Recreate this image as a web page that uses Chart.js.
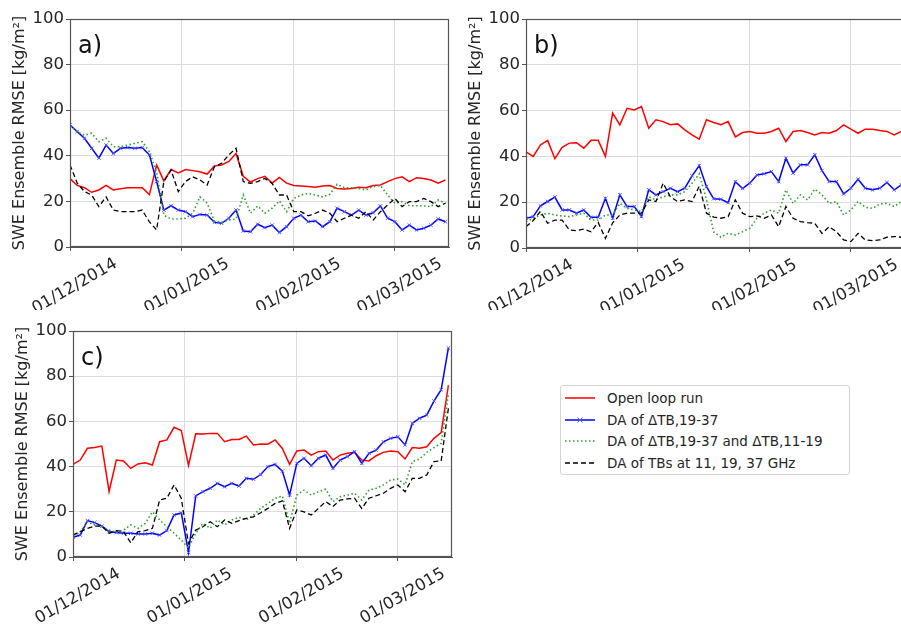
<!DOCTYPE html>
<html>
<head>
<meta charset="utf-8">
<script src="https://cdn.jsdelivr.net/npm/chart.js@4"></script>
<style>
  html, body { margin: 0; padding: 0; background: #fff; }
  body { width: 901px; height: 625px; overflow: hidden; position: relative; font-family: "DejaVu Sans", sans-serif; }
  canvas { position: absolute; }
  #legend { position: absolute; left: 560px; top: 385px; width: 290px; height: 90px; border: 1px solid #d4d4d4; border-radius: 3px; box-sizing: border-box; padding-top: 1px; background: #fff; }
  .row { height: 21.7px; display: flex; align-items: center; font-size: 13.5px; color: #262626; white-space: nowrap; }
  .row svg { margin-left: 4px; margin-right: 12px; flex: none; }
</style>
</head>
<body>
<canvas id="chartA" width="460" height="310" style="left:0;top:0"></canvas>
<canvas id="chartB" width="460" height="310" style="left:460px;top:0"></canvas>
<canvas id="chartC" width="460" height="315" style="left:0;top:310px"></canvas>
<div id="legend"></div>
<script>
// --- data: days since 01/12/2014, every second day ---
const days = [0, 2, 4, 6, 8, 10, 12, 14, 16, 18,
  20, 22, 24, 26, 28, 30, 32, 34, 36, 38,
  40, 42, 44, 46, 48, 50, 52, 54, 56, 58,
  60, 62, 64, 66, 68, 70, 72, 74, 76, 78,
  80, 82, 84, 86, 88, 90, 92, 94, 96, 98,
  100, 102, 104];

const tickDays = [0, 31, 62, 90];
const tickLabels = ["01/12/2014", "01/01/2015", "01/02/2015", "01/03/2015"];
const yTicks = [0, 20, 40, 60, 80, 100];

const seriesNames = ["Open loop run", "DA of \u0394TB,19-37", "DA of \u0394TB,19-37 and \u0394TB,11-19", "DA of TBs at 11, 19, 37 GHz"];

// panel a)
const aOpen = [30, 27, 26, 24, 25, 27, 25, 25.5, 26, 26,
  26, 23, 36, 29, 34, 32.5, 34, 33.5, 33, 32,
  35.5, 36, 37.5, 41, 31, 28.5, 30, 31, 28, 30.5,
  28, 27, 26.8, 26.5, 26.2, 26.8, 27, 25.7, 25.4, 25.7,
  26.2, 26, 27, 27.2, 28.7, 30, 30.8, 28.7, 30.4, 30,
  29.4, 28, 29.4];
const aDiff = [53.5, 50.6, 47.7, 43.3, 39, 44.7, 41, 43.3, 43.6, 43.3,
  43.6, 40.4, 28.7, 16.2, 18.1, 16.2, 15.5, 13.3, 14.3, 14,
  10.8, 10.4, 12.6, 16.2, 7, 6.7, 10, 8.5, 9.6, 6.4,
  8.9, 12.6, 14, 11.1, 11.4, 8.9, 11.1, 17, 15.5, 14,
  16.2, 14, 15, 18, 12.6, 11.1, 7.5, 9.6, 7.5, 8.2,
  9.6, 12.3, 11.1];
const aTwoDiff = [53.5, 50.6, 49, 49.9, 46.2, 47.7, 44, 44, 44.7, 45.5,
  46.2, 41.8, 33, 14, 12.3, 12.3, 12.6, 14.8, 22, 19.2,
  11.4, 10.8, 11.8, 12.3, 22.8, 14.8, 18, 14.8, 17, 20.2,
  15.5, 21.3, 22.8, 23.5, 22.8, 22, 23.1, 27.5, 26, 26,
  25.7, 25, 26.5, 27, 22.8, 19.2, 19.9, 18.1, 18.1, 18.1,
  17.7, 20.6, 19.2];
const aTbs = [36, 28, 24.3, 22.8, 17.7, 22, 16.2, 15.5, 15.5, 15.5,
  16.2, 11, 7.5, 28.7, 33.8, 24.3, 28.7, 30.8, 29.4, 27.2,
  35.2, 36.7, 40.4, 43.3, 28.7, 27.9, 28.7, 30.1, 27.9, 22.8,
  22.8, 15.5, 15.5, 13.7, 14.8, 16.2, 14.8, 11.1, 12.6, 14,
  12.6, 15.5, 11.8, 15.5, 18.4, 21.3, 17.7, 19.9, 19.9, 21.3,
  19.9, 17.7, 19.2];

// panel b)
const bOpen = [42, 40, 45, 47, 39, 44, 45.8, 46, 43.6, 47,
  47, 40, 58.9, 53.8, 61, 60.3, 61.8, 52.3, 56, 55.2,
  53.8, 54.2, 51.6, 49.4, 47.5, 56, 54.8, 53.8, 55.2, 48.5,
  50.4, 50.9, 50.1, 50.1, 50.9, 52.3, 46.5, 50.9, 51.3, 50.4,
  49.4, 50.4, 50.1, 51.3, 53.8, 51.9, 50.1, 51.9, 51.9, 51.3,
  50.9, 49.4, 50.9];
const bDiff = [13, 13.7, 18.4, 20.3, 22.2, 16.6, 16.6, 15.2, 16.6, 13.4,
  13.4, 21.7, 13, 23.2, 18.1, 18.1, 13.7, 25.4, 23.2, 24.6,
  26.1, 24.6, 26.1, 31.5, 36, 26.8, 21.5, 21.3, 19.8, 29,
  26, 28.3, 31.9, 32.4, 33.4, 29, 39.2, 32.7, 36.3, 36.3,
  40.7, 33.8, 29, 29, 23.6, 26.1, 30, 26.1, 25.4, 26.1,
  28.6, 25.4, 27.6];
const bTwoDiff = [11.5, 13, 14.4, 15.2, 14.4, 14, 13.7, 14.4, 15.2, 12.2,
  12.2, 14.4, 14.4, 19.5, 17.3, 16.6, 15.9, 22.4, 21, 22.4,
  23.2, 23.2, 24.6, 28.3, 32.4, 21, 7, 4.7, 6.4, 5.7,
  7.1, 8.6, 13, 15.2, 16.6, 15.2, 25.4, 19.5, 23.2, 21,
  25.7, 23.2, 19.5, 20.3, 14.4, 16.6, 20.3, 17.8, 17.3, 19.2,
  19.5, 18.1, 20.3];
const bTbs = [9.3, 12, 16, 10.8, 12.2, 12.2, 7.9, 7.6, 8.2, 7.1,
  11.1, 4.2, 11, 14.4, 15.2, 15.2, 15.2, 21, 20.3, 28.3,
  22.4, 20.3, 21, 20.3, 27, 15.2, 13.5, 13, 13.7, 21,
  15.2, 13.7, 14, 13, 14.4, 9.3, 18.1, 13, 11.5, 11.1,
  10.8, 6.4, 9.3, 7.1, 3.5, 2.8, 6.4, 3.5, 3.2, 3.5,
  4.7, 5, 4.7];

// panel c)
const cOpen = [41, 42.9, 48.1, 48.5, 49.1, 29, 42.9, 42.5, 39.2, 41.2,
  41.7, 40.7, 51, 51.8, 57.4, 56, 40.5, 54.5, 54.4, 54.7,
  54.7, 51, 52, 52, 53.5, 49.6, 50, 49.9, 51.8, 48,
  41, 46.9, 47.3, 45.1, 46.6, 46.9, 42.9, 45.1, 45.9, 46.3,
  42.9, 42.5, 44.8, 46.3, 46.9, 46.6, 43.4, 48.4, 48.1, 48.8,
  52.5, 55, 76];
const cDiff = [8.7, 9.7, 16.1, 15.2, 13.7, 11.2, 10.8, 10.5, 10.5, 10.2,
  10.2, 10.5, 9.7, 11.7, 18.6, 19.5, 2, 27, 28.9, 30.4,
  32.6, 31.1, 32.6, 31.4, 34.8, 34.4, 36.5, 40, 41, 38,
  27.4, 41.4, 43.7, 40.4, 43.7, 45.1, 39.2, 42.9, 44.4, 46.6,
  41.4, 45.9, 47.3, 51, 52.5, 53.2, 49.6, 59.1, 61.4, 62.8,
  69, 74, 92.5];
const cTwoDiff = [9, 11.2, 15.6, 14.2, 13.4, 11.9, 10.8, 11.9, 14.2, 12.7,
  14.9, 20, 16.4, 13.4, 10.5, 7.5, 4, 10.5, 14.9, 12.7,
  16.4, 14.2, 16.4, 17.6, 16.4, 18.6, 21.5, 23.7, 26, 27,
  15, 27.4, 29.6, 27.4, 28.9, 30, 24.5, 26.7, 27.4, 28.2,
  25.2, 29.6, 30.4, 31.9, 34.1, 34.5, 31.9, 42.2, 43.4, 46.3,
  48.4, 50.3, 72];
const cTbs = [9.7, 11.2, 12.7, 13.7, 13.7, 10.5, 11.7, 11.2, 6.3, 11.2,
  11.7, 12.7, 25.2, 26, 31.9, 26, 6, 11.9, 13.4, 15.6,
  13.4, 16.4, 14.9, 16.1, 17.1, 17.8, 19.6, 21.5, 23.7, 24.8,
  12.7, 20.8, 20, 18.6, 21.5, 24.5, 22.3, 25.2, 25.7, 26,
  21.5, 26, 27.1, 28.2, 30.4, 31.9, 28.9, 34.8, 34.8, 36.3,
  42.2, 42.5, 65.8];

// --- styles ---
Chart.defaults.font.family = "'DejaVu Sans', sans-serif";
Chart.defaults.color = "#262626";

const lineStyles = [
  { color: "#ff0000", width: 1.5, dash: [] },
  { color: "#0000ff", width: 1.5, dash: [] },
  { color: "#2ca02c", width: 1.6, dash: [1.5, 2.5] },
  { color: "#000000", width: 1.3, dash: [5, 3] }
];

// frame around the plot area + panel letter
const framePlugin = {
  id: "frame",
  afterDraw(chart, args, opts) {
    const { ctx, chartArea: a } = chart;
    ctx.save();
    ctx.strokeStyle = "#555";
    ctx.lineWidth = 1.2;
    ctx.strokeRect(a.left + 0.5, a.top + 0.5, a.right - a.left - 1, a.bottom - a.top - 1);
    ctx.fillStyle = "#111";
    ctx.font = "24px 'DejaVu Sans'";
    ctx.fillText(opts.label, a.left + 8, a.top + 34);
    ctx.restore();
  }
};

function buildPanel(canvasId, label, seriesList, layout) {
  const datasets = seriesList.map((vals, k) => ({
    label: seriesNames[k],
    data: days.map((d, i) => ({ x: d, y: vals[i] })),
    borderColor: lineStyles[k].color,
    borderWidth: lineStyles[k].width,
    borderDash: lineStyles[k].dash,
    pointRadius: k === 1 ? 2.5 : 0,
    pointStyle: "crossRot",
    pointBorderColor: "rgba(80,80,255,0.9)",
    pointBorderWidth: 1,
    fill: false,
    tension: 0,
    order: 3 - k
  }));

  return new Chart(document.getElementById(canvasId), {
    type: "line",
    data: { datasets },
    plugins: [framePlugin],
    options: {
      responsive: false,
      animation: false,
      events: [],
      layout: { padding: layout.padding },
      plugins: {
        legend: { display: false },
        tooltip: { enabled: false },
        frame: { label }
      },
      scales: {
        x: {
          type: "linear",
          min: 0,
          max: 105,
          afterBuildTicks: s => { s.ticks = tickDays.map(v => ({ value: v })); },
          afterFit: s => { s.height = layout.xHeight; s.paddingLeft = 0; s.paddingRight = 0; },
          ticks: {
            autoSkip: false,
            maxRotation: 30,
            minRotation: 30,
            padding: 3,
            labelOffset: 46,
            font: { size: 16.5 },
            color: "#262626",
            callback: (v, i) => tickLabels[i]
          },
          grid: { color: "#dcdcdc", tickLength: 4, tickColor: "#555" },
          border: { color: "#555" }
        },
        y: {
          min: 0,
          max: 100,
          afterBuildTicks: s => { s.ticks = yTicks.map(v => ({ value: v })); },
          afterFit: s => { s.width = 64; },
          ticks: { padding: 2, font: { size: 16.5 }, color: "#262626" },
          grid: { color: "#dcdcdc", tickLength: 4, tickColor: "#555" },
          border: { color: "#555" },
          title: {
            display: true,
            text: "SWE Ensemble RMSE [kg/m\u00b2]",
            font: { size: 16 },
            color: "#262626"
          }
        }
      }
    }
  });
}

buildPanel("chartA", "a)", [aOpen, aDiff, aTwoDiff, aTbs],
  { padding: { left: 6, top: 19, right: 11, bottom: 0 }, xHeight: 63 });
buildPanel("chartB", "b)", [bOpen, bDiff, bTwoDiff, bTbs],
  { padding: { left: 2, top: 19, right: 15, bottom: 0 }, xHeight: 62 });
buildPanel("chartC", "c)", [cOpen, cDiff, cTwoDiff, cTbs],
  { padding: { left: 9, top: 21, right: 8, bottom: 0 }, xHeight: 68 });

// --- legend (html) ---
const legend = document.getElementById("legend");
seriesNames.forEach((name, k) => {
  const st = lineStyles[k];
  const dash = st.dash.length ? ` stroke-dasharray="${st.dash.join(",")}"` : "";
  const marker = k === 1
    ? `<path d="M12.5 2.5 L17.5 7.5 M17.5 2.5 L12.5 7.5" stroke="#5050ff" stroke-width="1"/>`
    : "";
  const row = document.createElement("div");
  row.className = "row";
  row.innerHTML = `<svg width="30" height="10"><line x1="0" y1="5" x2="30" y2="5" stroke="${st.color}" stroke-width="${st.width}"${dash}/>${marker}</svg><span>${name}</span>`;
  legend.appendChild(row);
});
</script>
</body>
</html>
